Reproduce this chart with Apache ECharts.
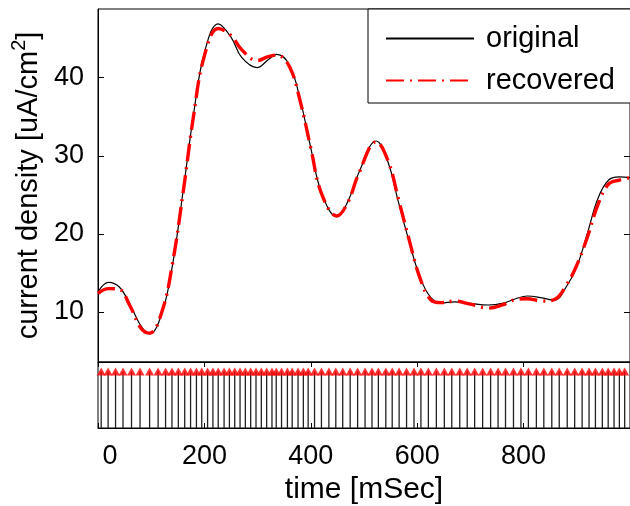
<!DOCTYPE html>
<html><head><meta charset="utf-8">
<script src="https://cdn.jsdelivr.net/npm/echarts@6/dist/echarts.min.js"></script>
<style>html,body{margin:0;padding:0;background:#fff}#c{width:630px;height:506px}</style>
</head><body><div id="c"></div>
<script>
// time points (ms) for the two current-density curves
const times = [0, 20, 40, 60, 80, 97, 120, 140, 160, 180, 200, 226, 250, 270, 299, 320, 336, 360, 380, 400, 420, 449, 470, 490, 523, 545, 565, 585, 605, 625, 645, 670, 700, 733, 760, 785, 807, 835, 858, 880, 900, 920, 940, 960, 980, 1000];
const original = [12.6, 13.8, 13.2, 11.0, 8.3, 7.2, 9.8, 16.0, 25.5, 35.5, 43.2, 46.9, 45.2, 42.6, 41.3, 42.3, 43.0, 41.6, 37.2, 31.0, 25.3, 22.2, 24.2, 27.8, 31.9, 29.2, 24.0, 19.0, 14.5, 11.9, 11.15, 11.3, 11.1, 10.9, 11.1, 11.7, 12.05, 11.8, 11.5, 13.2, 15.8, 20.1, 24.6, 26.9, 27.3, 27.2];
const recovered = [12.4, 13.0, 12.9, 10.8, 8.0, 7.3, 10.0, 16.2, 25.3, 35.3, 42.8, 46.3, 45.4, 43.6, 42.2, 42.7, 42.9, 41.4, 37.0, 31.0, 25.2, 22.3, 24.1, 27.7, 31.8, 29.4, 24.4, 19.2, 14.4, 11.6, 11.2, 11.4, 11.0, 10.5, 10.9, 11.6, 11.7, 11.4, 11.6, 13.4, 16.0, 19.6, 23.8, 26.4, 26.9, 27.2];
// sampling instants shown as stems
const sampleTimes = [6, 19, 33, 47, 63, 79, 97, 113, 127, 139, 151, 163, 174, 185, 195, 206, 216, 226, 237, 247, 257, 267, 277, 287, 297, 307, 317, 327, 335, 345, 356, 365, 376, 386, 395, 407, 420, 434, 447, 460, 474, 488, 502, 515, 527, 541, 553, 566, 580, 594, 607, 621, 636, 651, 665, 680, 694, 708, 723, 738, 752, 766, 781, 795, 809, 824, 838, 853, 867, 882, 896, 910, 923, 935, 948, 959, 970, 980, 990];
const sampleValue = 1;
const yTicks = [10, 20, 30, 40];
const xTickStep = 200;

const FONT = 'Liberation Sans';
const chart = echarts.init(document.getElementById('c'), null, {renderer: 'canvas'});
const pairs = (xs, ys) => xs.map((x, i) => [x, ys[i]]);

const option = {
  backgroundColor: '#fff',
  animation: false,
  grid: [
    {left: 98, top: 9, width: 535, height: 353, show: true, borderColor: '#000', borderWidth: 1, backgroundColor: 'transparent'},
    {left: 98, top: 362, width: 535, height: 66, show: true, borderColor: '#000', borderWidth: 1, backgroundColor: 'transparent'}
  ],
  legend: {
    data: ['original', 'recovered'],
    orient: 'vertical',
    left: 368, top: 9,
    itemWidth: 88, itemHeight: 14, itemGap: 13,
    padding: [15, 60, 8, 17],
    borderColor: '#000', borderWidth: 1, backgroundColor: '#fff',
    itemStyle: {opacity: 0},
    textStyle: {fontFamily: FONT, fontSize: 29, color: '#000', padding: [0, 0, 0, 7]}
  },
  xAxis: [
    {gridIndex: 0, type: 'value', min: 0, max: 1000, axisLine: {show: false}, axisTick: {show: false}, axisLabel: {show: false}, splitLine: {show: false}},
    {gridIndex: 1, type: 'value', min: 0, max: 1000, interval: xTickStep, position: 'bottom',
     axisLine: {show: true, lineStyle: {color: '#000'}},
     axisTick: {show: true, inside: true, length: 5, lineStyle: {color: '#000'}},
     axisLabel: {fontFamily: FONT, fontSize: 27, color: '#000', margin: 15, showMaxLabel: false,
       formatter: v => v === 0 ? '{z|0}' : (v >= 1000 ? '' : String(v)),
       rich: {z: {fontFamily: FONT, fontSize: 27, color: '#000', padding: [0, 0, 0, 24]}}},
     splitLine: {show: false},
     name: 'time [mSec]', nameLocation: 'middle', nameGap: 47,
     nameTextStyle: {fontFamily: FONT, fontSize: 30, color: '#000'}},
    {gridIndex: 1, type: 'value', min: 0, max: 1000, interval: xTickStep, position: 'top',
     axisLine: {show: true, lineStyle: {color: '#000'}},
     axisTick: {show: true, inside: true, length: 5, lineStyle: {color: '#000'}},
     axisLabel: {show: false}, splitLine: {show: false}}
  ],
  yAxis: [
    {gridIndex: 0, type: 'value', min: 3.6, max: 48.8, position: 'left',
     axisLine: {show: true, lineStyle: {color: '#000'}},
     axisTick: {show: true, inside: true, length: 6, customValues: yTicks, lineStyle: {color: '#000'}},
     axisLabel: {customValues: yTicks, fontFamily: FONT, fontSize: 27, color: '#000', margin: 14},
     splitLine: {show: false},
     name: '{m|current density [uA/cm}{s|2}{m|]}', nameLocation: 'middle', nameGap: 33,
     nameTextStyle: {fontFamily: FONT, fontSize: 29, color: '#000',
       rich: {
         m: {fontFamily: FONT, fontSize: 29, color: '#000', lineHeight: 34, verticalAlign: 'bottom'},
         s: {fontFamily: FONT, fontSize: 20, color: '#000', lineHeight: 34, verticalAlign: 'top'}
       }}},
    {gridIndex: 0, type: 'value', min: 3.6, max: 48.8, position: 'right',
     axisLine: {show: true, lineStyle: {color: '#000'}},
     axisTick: {show: true, inside: true, length: 6, customValues: yTicks, lineStyle: {color: '#000'}},
     axisLabel: {show: false}, splitLine: {show: false}},
    {gridIndex: 1, type: 'value', min: 0, max: 1.17, show: false, splitLine: {show: false}}
  ],
  series: [
    {name: 'original', type: 'line', xAxisIndex: 0, yAxisIndex: 0, data: pairs(times, original),
     smooth: 0.4, symbol: 'none', showSymbol: false, color: '#000',
     lineStyle: {color: '#000', width: 1.2}, z: 2},
    {name: 'recovered', type: 'line', xAxisIndex: 0, yAxisIndex: 0, data: pairs(times, recovered),
     smooth: 0.4, symbol: 'none', showSymbol: false, color: '#ff0000',
     lineStyle: {color: '#ff0000', width: 3.4, type: [18, 6, 2, 6]}, z: 3},
    {name: 'stems', type: 'custom', xAxisIndex: 1, yAxisIndex: 2,
     data: sampleTimes.map(t => [t, sampleValue]),
     renderItem: (params, api) => {
       const p0 = api.coord([api.value(0), 0]);
       const p1 = api.coord([api.value(0), api.value(1)]);
       return {type: 'line', shape: {x1: p0[0], y1: p0[1], x2: p1[0], y2: p1[1]},
               style: {stroke: '#222', lineWidth: 1.3}};
     }, z: 2},
    {name: 'samples', type: 'scatter', xAxisIndex: 1, yAxisIndex: 2,
     data: sampleTimes.map(t => [t, sampleValue]),
     symbol: 'triangle', symbolSize: [9, 8], itemStyle: {color: '#ff0000'}, z: 3}
  ]
};
chart.setOption(option);
</script>
</body></html>
